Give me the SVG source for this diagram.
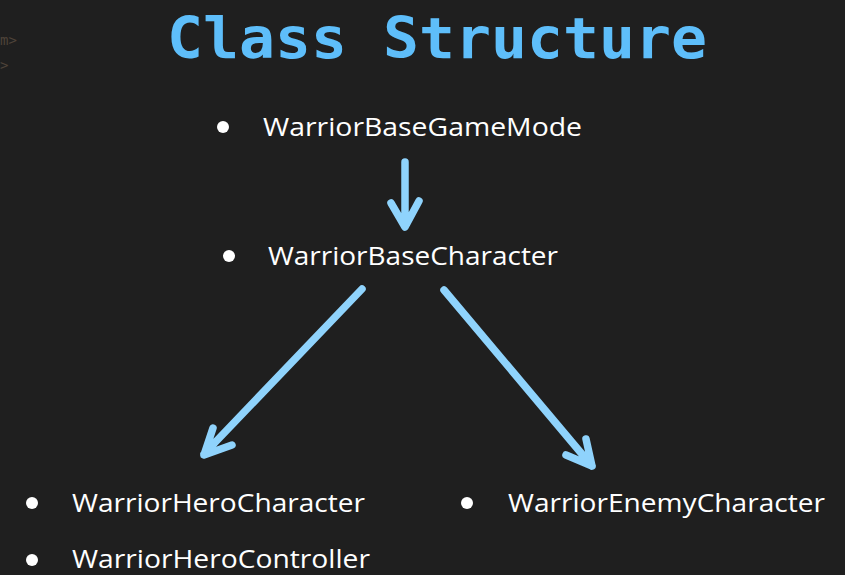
<svg xmlns="http://www.w3.org/2000/svg" width="845" height="575" viewBox="0 0 845 575">
<style>
.title{font-family:"DejaVu Sans Mono","Liberation Mono",monospace;font-weight:bold;font-size:57px;fill:#5ebefa}
.lbl{font-family:"Open Sans","Noto Sans",sans-serif;font-size:26px;fill:#ffffff}
.dot{fill:#ffffff}
.conn{stroke:#8fd3fc;stroke-width:7.5;fill:none;stroke-linecap:round;stroke-linejoin:round}
.ghost{font-family:"DejaVu Sans Mono",monospace;font-size:14px;fill:#4e4339}
</style>
<rect width="845" height="575" fill="#1f1f1f"/>
<text class="ghost" x="0" y="45">m&gt;</text>
<text class="ghost" x="0" y="70">&gt;</text>
<text class="title" x="167" y="58" textLength="540" lengthAdjust="spacingAndGlyphs">Class Structure</text>
<g id="connectors">
<path class="conn" d="M405,162 L405,226 M391,203 L405,227 L419,201"/>
<path class="conn" d="M362,289 L204,454 M213,428 L204,455 L232,445"/>
<path class="conn" d="M444,290 L592,466 M586,439 L592,466 L566,455"/>
</g>
<g id="gamemode"><circle class="dot" cx="223" cy="127" r="6"/><text class="lbl" x="263" y="136" textLength="319" lengthAdjust="spacingAndGlyphs">WarriorBaseGameMode</text></g>
<g id="basechar"><circle class="dot" cx="229" cy="256" r="6"/><text class="lbl" x="268" y="265" textLength="290" lengthAdjust="spacingAndGlyphs">WarriorBaseCharacter</text></g>
<g id="herochar"><circle class="dot" cx="32" cy="503" r="6"/><text class="lbl" x="72" y="512" textLength="293" lengthAdjust="spacingAndGlyphs">WarriorHeroCharacter</text></g>
<g id="enemychar"><circle class="dot" cx="467" cy="503" r="6"/><text class="lbl" x="508" y="512" textLength="317" lengthAdjust="spacingAndGlyphs">WarriorEnemyCharacter</text></g>
<g id="herocontroller"><circle class="dot" cx="32" cy="560" r="6"/><text class="lbl" x="72" y="568" textLength="298" lengthAdjust="spacingAndGlyphs">WarriorHeroController</text></g>
</svg>
